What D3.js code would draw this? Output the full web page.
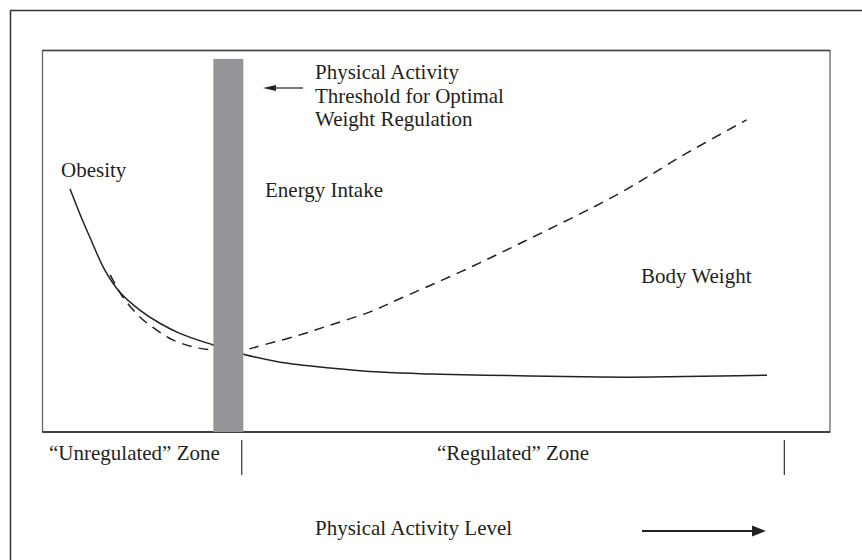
<!DOCTYPE html>
<html>
<head>
<meta charset="utf-8">
<script src="https://cdn.jsdelivr.net/npm/d3@7"></script>
<style>
  html, body { margin: 0; padding: 0; background: #fff; }
  svg { display: block; }
  text { font-family: "Liberation Serif", "Times New Roman", serif; fill: #231f20; }
</style>
</head>
<body>
<svg id="chart" width="862" height="560"></svg>
<script>
// ---- data (activity level 0-100 on x, relative level 0-100 on y) ----
const bodyWeightX   = [3.5, 4.8, 6.0, 7.9, 9.8, 12.4, 14.9, 17.5, 21.7, 25.5, 30.2, 36.5, 42.9, 49.2, 61.9, 70.8, 77.5, 86.0, 92.0];
const bodyWeightY   = [63.7, 56.9, 51.1, 42.5, 36.7, 31.9, 28.5, 25.8, 22.8, 20.4, 18.3, 16.8, 15.7, 15.2, 14.7, 14.4, 14.4, 14.7, 14.9];
const energyIntakeX = [8.6, 10.2, 12.4, 14.5, 16.6, 19.1, 21.7, 25.5, 28.0, 32.3, 36.5, 41.6, 45.0, 53.0, 61.0, 73.3, 81.8, 89.4];
const energyIntakeY = [41.2, 35.4, 30.1, 26.7, 24.1, 22.3, 21.5, 21.5, 22.8, 25.2, 28.0, 31.5, 34.6, 41.9, 49.8, 62.6, 73.1, 81.8];
const thresholdBand = [21.7, 25.5];      // x range of the threshold bar
const thresholdTop  = 97.8;
const zoneBounds    = [25.3, 94.2];      // zone separator positions
const zoneLabels    = ["\u201CUnregulated\u201D Zone", "\u201CRegulated\u201D Zone"];
const thresholdLabel = ["Physical Activity", "Threshold for Optimal", "Weight Regulation"];
const curveLabels   = ["Obesity", "Energy Intake", "Body Weight"];
const xAxisLabel    = "Physical Activity Level";

const svg = d3.select("#chart");
const plot = { left: 42.5, right: 830, top: 50.5, bottom: 432 };

const x = d3.scaleLinear().domain([0, 100]).range([plot.left, plot.right]);
const y = d3.scaleLinear().domain([0, 100]).range([plot.bottom, plot.top]);

// outer frame (cut off on right/bottom)
svg.append("rect").attr("x", 10.5).attr("y", 10.5).attr("width", 880).attr("height", 600)
  .attr("fill", "none").attr("stroke", "#333").attr("stroke-width", 1.5);

// inner plot box
svg.append("rect").attr("x", plot.left).attr("y", plot.top)
  .attr("width", plot.right - plot.left).attr("height", plot.bottom - plot.top)
  .attr("fill", "none").attr("stroke", "#666").attr("stroke-width", 1.3);
svg.append("line").attr("x1", plot.left).attr("x2", plot.right)
  .attr("y1", plot.bottom).attr("y2", plot.bottom).attr("stroke", "#222").attr("stroke-width", 1.3);
svg.append("line").attr("x1", plot.left).attr("x2", plot.right)
  .attr("y1", plot.top).attr("y2", plot.top).attr("stroke", "#444").attr("stroke-width", 1.3);

const line = d3.line().x(d => x(d[0])).y(d => y(d[1])).curve(d3.curveCatmullRom.alpha(0.5));

// body weight (solid)
svg.append("path")
  .datum(d3.zip(bodyWeightX, bodyWeightY))
  .attr("d", line).attr("fill", "none").attr("stroke", "#222").attr("stroke-width", 1.5);

// energy intake (dashed)
svg.append("path")
  .datum(d3.zip(energyIntakeX, energyIntakeY))
  .attr("d", line).attr("fill", "none").attr("stroke", "#222").attr("stroke-width", 1.5)
  .attr("stroke-dasharray", "10,7");

// threshold bar
svg.append("rect")
  .attr("x", x(thresholdBand[0])).attr("width", x(thresholdBand[1]) - x(thresholdBand[0]))
  .attr("y", y(thresholdTop)).attr("height", y(0) - y(thresholdTop))
  .attr("fill", "#939598");

// threshold label
const tl = svg.append("text").attr("x", 315).attr("y", 79).attr("font-size", 21);
thresholdLabel.forEach((t, i) => {
  tl.append("tspan").attr("x", 315).attr("dy", i === 0 ? 0 : 23.5).text(t);
});

// small arrow pointing to bar
svg.append("line").attr("x1", 303).attr("x2", 272).attr("y1", 88).attr("y2", 88)
  .attr("stroke", "#222").attr("stroke-width", 1.2);
svg.append("path").attr("d", "M263,88 L276,85 L276,91 Z").attr("fill", "#222");

// curve labels
svg.append("text").attr("x", 61).attr("y", 177).attr("font-size", 21).text(curveLabels[0]);
svg.append("text").attr("x", 265).attr("y", 197).attr("font-size", 21).text(curveLabels[1]);
svg.append("text").attr("x", 641).attr("y", 283).attr("font-size", 21).text(curveLabels[2]);

// zone separators
zoneBounds.forEach(b => {
  svg.append("line").attr("x1", x(b)).attr("x2", x(b)).attr("y1", 440).attr("y2", 475)
    .attr("stroke", "#333").attr("stroke-width", 1.2);
});

// zone labels
svg.append("text").attr("x", 49).attr("y", 460).attr("font-size", 21).text(zoneLabels[0]);
svg.append("text").attr("x", 437).attr("y", 460).attr("font-size", 21).text(zoneLabels[1]);

// x-axis label and arrow
svg.append("text").attr("x", 315).attr("y", 535).attr("font-size", 21).text(xAxisLabel);
svg.append("line").attr("x1", 642).attr("x2", 753).attr("y1", 531).attr("y2", 531)
  .attr("stroke", "#222").attr("stroke-width", 2.2);
svg.append("path").attr("d", "M766,531 L752,525.5 L752,536.5 Z").attr("fill", "#222");
</script>
</body>
</html>
